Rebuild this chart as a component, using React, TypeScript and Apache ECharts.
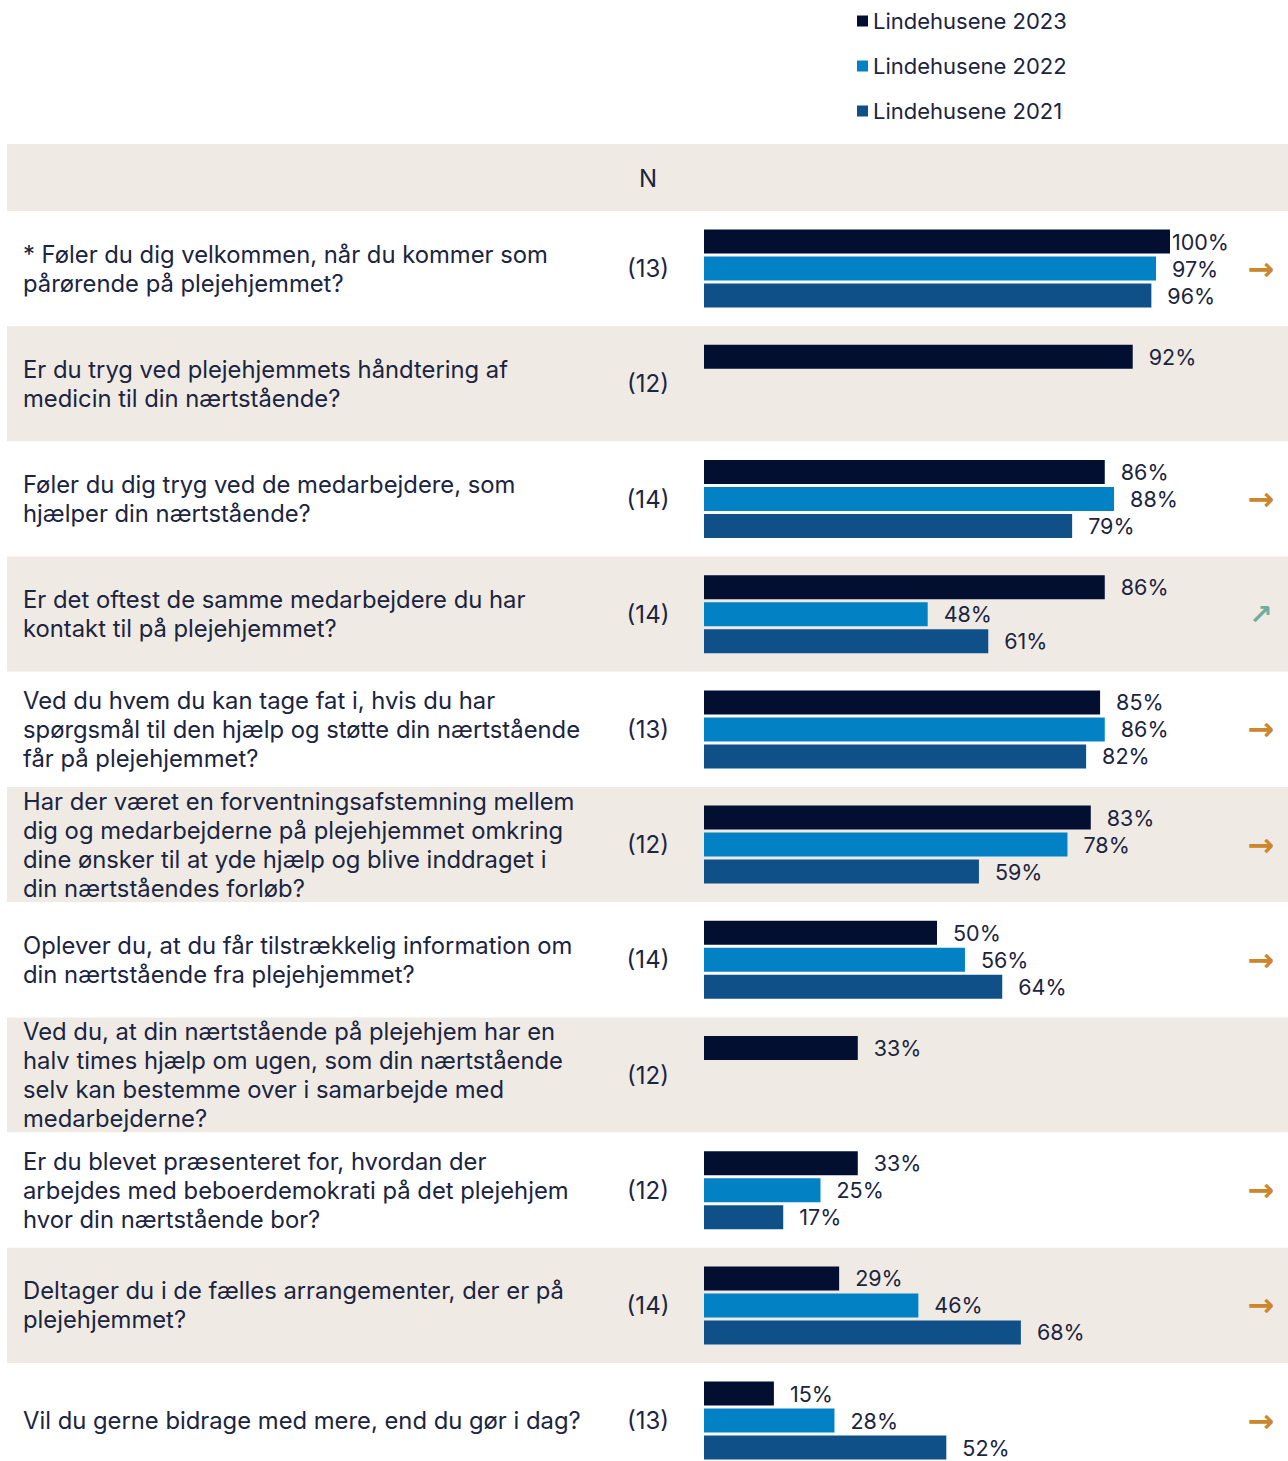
import React, { useEffect, useRef } from "react";
import * as echarts from "echarts";

const questions = [
  "* Føler du dig velkommen, når du kommer som\npårørende på plejehjemmet?",
  "Er du tryg ved plejehjemmets håndtering af\nmedicin til din nærtstående?",
  "Føler du dig tryg ved de medarbejdere, som\nhjælper din nærtstående?",
  "Er det oftest de samme medarbejdere du har\nkontakt til på plejehjemmet?",
  "Ved du hvem du kan tage fat i, hvis du har\nspørgsmål til den hjælp og støtte din nærtstående\nfår på plejehjemmet?",
  "Har der været en forventningsafstemning mellem\ndig og medarbejderne på plejehjemmet omkring\ndine ønsker til at yde hjælp og blive inddraget i\ndin nærtståendes forløb?",
  "Oplever du, at du får tilstrækkelig information om\ndin nærtstående fra plejehjemmet?",
  "Ved du, at din nærtstående på plejehjem har en\nhalv times hjælp om ugen, som din nærtstående\nselv kan bestemme over i samarbejde med\nmedarbejderne?",
  "Er du blevet præsenteret for, hvordan der\narbejdes med beboerdemokrati på det plejehjem\nhvor din nærtstående bor?",
  "Deltager du i de fælles arrangementer, der er på\nplejehjemmet?",
  "Vil du gerne bidrage med mere, end du gør i dag?",
];
const nValues = [13, 12, 14, 14, 13, 12, 14, 12, 12, 14, 13];
const seriesNames = ["Lindehusene 2023", "Lindehusene 2022", "Lindehusene 2021"];
const values2023 = [100, 92, 86, 86, 85, 83, 50, 33, 33, 29, 15];
const values2022 = [97, null, 88, 48, 86, 78, 56, null, 25, 46, 28];
const values2021 = [96, null, 79, 61, 82, 59, 64, null, 17, 68, 52];
const trends = ["flat", "none", "flat", "up", "flat", "flat", "flat", "none", "flat", "flat", "flat"];

const COLORS = ["#020F30", "#0281C4", "#0F5088"];
const TEXT = "#1B2440";
const BAND = "#EFEBE4";
const FONT = "Inter";
const ROW_H = 115.2;
const TOP = 211;

export default function App() {
  const ref = useRef<HTMLDivElement>(null);
  const fullH = TOP + ROW_H * questions.length;
  useEffect(() => {
    if (!ref.current) return;
    const chart = echarts.init(ref.current, undefined, { renderer: "svg" });
    const allValues = [values2023, values2022, values2021];
    const gridH = ROW_H * questions.length;
    const option: any = {
      animation: false,
      backgroundColor: "#ffffff",
      textStyle: { fontFamily: FONT },
      legend: {
        orient: "vertical",
        left: 857,
        top: 10,
        padding: 0,
        itemWidth: 11,
        itemHeight: 11,
        itemGap: 23,
        icon: "rect",
        data: seriesNames,
        textStyle: { color: TEXT, fontSize: 22, fontFamily: FONT, lineHeight: 22 },
      },
      graphic: [
        { type: "rect", left: 7, top: 144, shape: { width: 1281, height: 67 }, style: { fill: BAND }, z: -10 },
        {
          type: "text",
          x: 648,
          y: 178,
          style: { text: "N", fill: TEXT, fontSize: 24, fontFamily: FONT, align: "center", verticalAlign: "middle" },
        },
      ],
      grid: [
        { left: 704, top: TOP, width: 466, height: gridH },
        { left: 7, right: 0, top: TOP, height: gridH },
      ],
      xAxis: [
        { type: "value", gridIndex: 0, min: 0, max: 100, show: false },
        { type: "value", gridIndex: 1, min: 0, max: 1, show: false },
      ],
      yAxis: [
        {
          type: "category",
          gridIndex: 0,
          data: questions,
          inverse: true,
          axisLine: { show: false },
          axisTick: { show: false },
          splitLine: { show: false },
          axisLabel: { align: "left", margin: 681, fontSize: 23.8, lineHeight: 29, color: TEXT, fontFamily: FONT },
        },
        {
          type: "category",
          gridIndex: 0,
          position: "left",
          data: nValues.map((n) => `(${n})`),
          inverse: true,
          axisLine: { show: false },
          axisTick: { show: false },
          splitLine: { show: false },
          axisLabel: { align: "center", margin: 56, fontSize: 24, color: TEXT, fontFamily: FONT },
        },
        {
          type: "category",
          gridIndex: 0,
          position: "right",
          data: trends,
          inverse: true,
          axisLine: { show: false },
          axisTick: { show: false },
          splitLine: { show: false },
          axisLabel: {
            align: "center",
            margin: 91,
            formatter: (v: string) => (v === "up" ? "{up|↗}" : v === "flat" ? "{flat|→}" : ""),
            rich: {
              flat: { color: "#CC872C", fontSize: 32, fontFamily: "DejaVu Sans", fontWeight: "bold" },
              up: { color: "#6FAE9E", fontSize: 28, fontFamily: "DejaVu Sans", fontWeight: "bold" },
            },
          },
        },
        {
          type: "category",
          gridIndex: 1,
          data: questions.map((_, i) => String(i)),
          inverse: true,
          axisLine: { show: false },
          axisTick: { show: false },
          axisLabel: { show: false },
          splitLine: { show: false },
          splitArea: { show: true, areaStyle: { color: ["#ffffff", BAND] } },
        },
      ],
      series: seriesNames.map((name, si) => ({
        type: "bar",
        name,
        xAxisIndex: 0,
        yAxisIndex: 0,
        barWidth: 24,
        barGap: "12.5%",
        itemStyle: { color: COLORS[si] },
        label: {
          show: true,
          position: "right",
          distance: 16,
          formatter: (p: any) => `${p.value}%`,
          color: TEXT,
          fontSize: 21.5,
          fontFamily: FONT,
        },
        data: allValues[si].map((v) =>
          v === null ? null : v >= 100 ? { value: v, label: { distance: 2 } } : v
        ),
      })),
    };
    chart.setOption(option);
    return () => chart.dispose();
  }, []);
  return (
    <div style={{ position: "absolute", left: 0, top: 0, width: 1288, height: 1461, overflow: "hidden" }}>
      <div ref={ref} style={{ width: 1288, height: Math.ceil(fullH) }} />
    </div>
  );
}
